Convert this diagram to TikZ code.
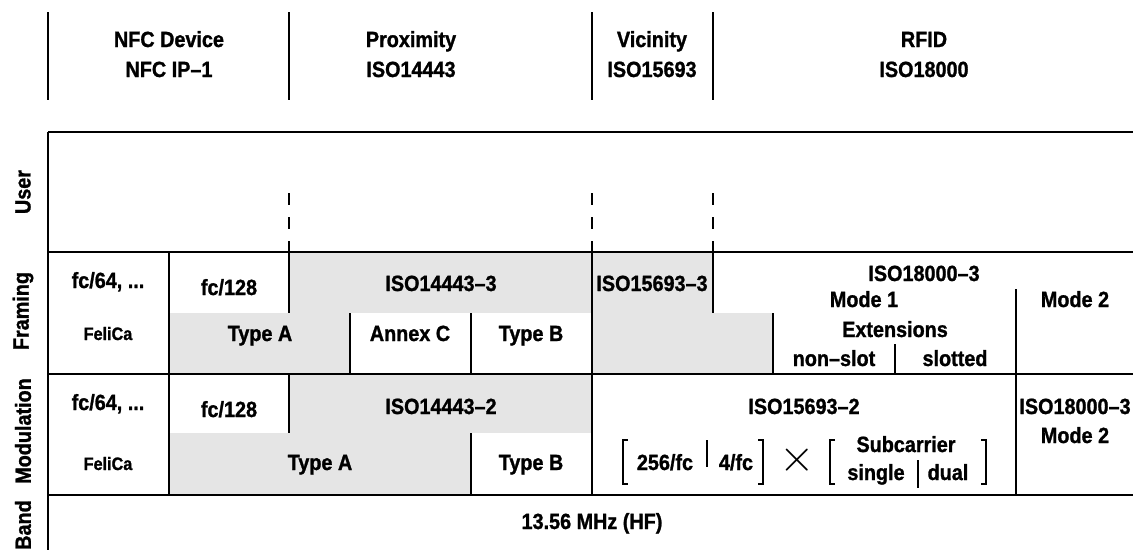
\documentclass[tikz,border=0pt]{standalone}
\usepackage{graphicx}
\usepackage{fontspec}
\setmainfont{Liberation Sans}[FakeStretch=0.9, BoldFeatures={FakeBold=1.2}]
\begin{document}
\begin{tikzpicture}[
    x=1pt, y=-1pt,
    lbl/.style={
        anchor=base,
        inner sep=0pt,
        font=\bfseries\fontsize{22}{26}\selectfont
    },
    small/.style={lbl, font=\bfseries\fontsize{18}{22}\selectfont},
    side/.style={rotate=90, inner sep=0pt, font=\bfseries\fontsize{22}{26}\selectfont},
    rule/.style={line width=1.7pt},
    subrule/.style={line width=1.2pt},
    brk/.style={line width=1.1pt},
    shade/.style={fill=black!10}
]
\useasboundingbox (0,0) rectangle (1133,550);

% Shaded cells
\fill[shade] (289,252) rectangle (713,313);
\fill[shade] (169,313) rectangle (350,374);
\fill[shade] (592,313) rectangle (773,374);
\fill[shade] (289,374) rectangle (592,433);
\fill[shade] (169,433) rectangle (471,495);

% Header
\foreach \x in {48,289,592,713}
    \draw[rule] (\x,12) -- (\x,100);
\node[lbl] (nfc)   at (169,47) {NFC Device};
\node[lbl] (nfcip) at (169,77) {NFC IP--1};
\node[lbl] (prox)  at (411,47) {Proximity};
\node[lbl] (prox2) at (411,77) {ISO14443};
\node[lbl] (vic)   at (652,47) {Vicinity};
\node[lbl] (vic2)  at (652,77) {ISO15693};
\node[lbl] (rfid)  at (924,47) {RFID};
\node[lbl] (rfid2) at (924,77) {ISO18000};

% Layers
\node[side] (user) at (23,192) {User};
\node[side] (frm)  at (23,311) {Framing};
\node[side] (mod)  at (23,431) {Modulation};
\node[side] (band) at (23,525) {Band};

% Grid
\foreach \y in {132,252,374,495}
    \draw[rule] (48,\y) -- (1133,\y);
\draw[rule] (48,132) -- (48,550);
\foreach \x in {289,592,713}
    \draw[rule, dash pattern=on 12pt off 12pt] (\x,193) -- (\x,252);
\draw[rule] (169,252) -- (169,495);
\draw[rule] (592,252) -- (592,495);
\draw[rule] (289,252) -- (289,313);
\draw[rule] (713,252) -- (713,313);
\draw[rule] (350,313) -- (350,374);
\draw[rule] (471,313) -- (471,374);
\draw[rule] (773,313) -- (773,374);
\draw[subrule] (1016,289) -- (1016,374);
\draw[subrule] (895,344) -- (895,374);
\draw[rule] (289,374) -- (289,433);
\draw[rule] (471,433) -- (471,495);
\draw[rule] (1016,374) -- (1016,495);

% Framing
\node[lbl] (f64)   at (108,288) {fc/64, ...};
\node[lbl] (f128)  at (229,295) {fc/128};
\node[lbl] (f14)   at (441,291) {ISO14443--3};
\node[lbl] (f15)   at (652,291) {ISO15693--3};
\node[lbl] (f18)   at (924,281) {ISO18000--3};
\node[lbl] (fm1)   at (864,307) {Mode 1};
\node[lbl] (fm2)   at (1075,307) {Mode 2};
\node[small] (ffeli) at (108,340) {FeliCa};
\node[lbl] (fta)   at (260,341) {Type A};
\node[lbl] (fanx)  at (410,341) {Annex C};
\node[lbl] (ftb)   at (531,341) {Type B};
\node[lbl] (fext)  at (895,337) {Extensions};
\node[lbl] (fns)   at (834,366) {non--slot};
\node[lbl] (fsl)   at (955,366) {slotted};

% Modulation
\node[lbl] (m64)   at (108,410) {fc/64, ...};
\node[lbl] (m128)  at (229,417) {fc/128};
\node[lbl] (m14)   at (441,414) {ISO14443--2};
\node[lbl] (m15)   at (804,414) {ISO15693--2};
\node[lbl] (m18)   at (1075,414) {ISO18000--3};
\node[lbl] (mm2)   at (1075,443) {Mode 2};
\node[small] (mfeli) at (108,470) {FeliCa};
\node[lbl] (mta)   at (320,470) {Type A};
\node[lbl] (mtb)   at (531,470) {Type B};
\node[lbl] (m256)  at (665,470) {256/fc};
\node[lbl] (m4)    at (736,470) {4/fc};
\node[inner sep=0pt, font=\fontsize{20}{24}\selectfont] (mx) at (797,460) {\scalebox{2.2}{$\times$}};
\node[lbl] (msub)  at (906,452) {Subcarrier};
\node[lbl] (msgl)  at (876,480) {single};
\node[lbl] (mdual) at (948,480) {dual};

% brackets
\draw[brk] (628,440) -- (623,440) -- (623,484) -- (628,484);
\draw[brk] (758,440) -- (763,440) -- (763,484) -- (758,484);
\draw[brk] (835,440) -- (830,440) -- (830,484) -- (835,484);
\draw[brk] (981,440) -- (986,440) -- (986,484) -- (981,484);
\draw[brk] (707,440) -- (707,467);
\draw[brk] (918,460) -- (918,488);

% Band
\node[lbl] (hf) at (592,529) {13.56 MHz (HF)};

\end{tikzpicture}
\end{document}
